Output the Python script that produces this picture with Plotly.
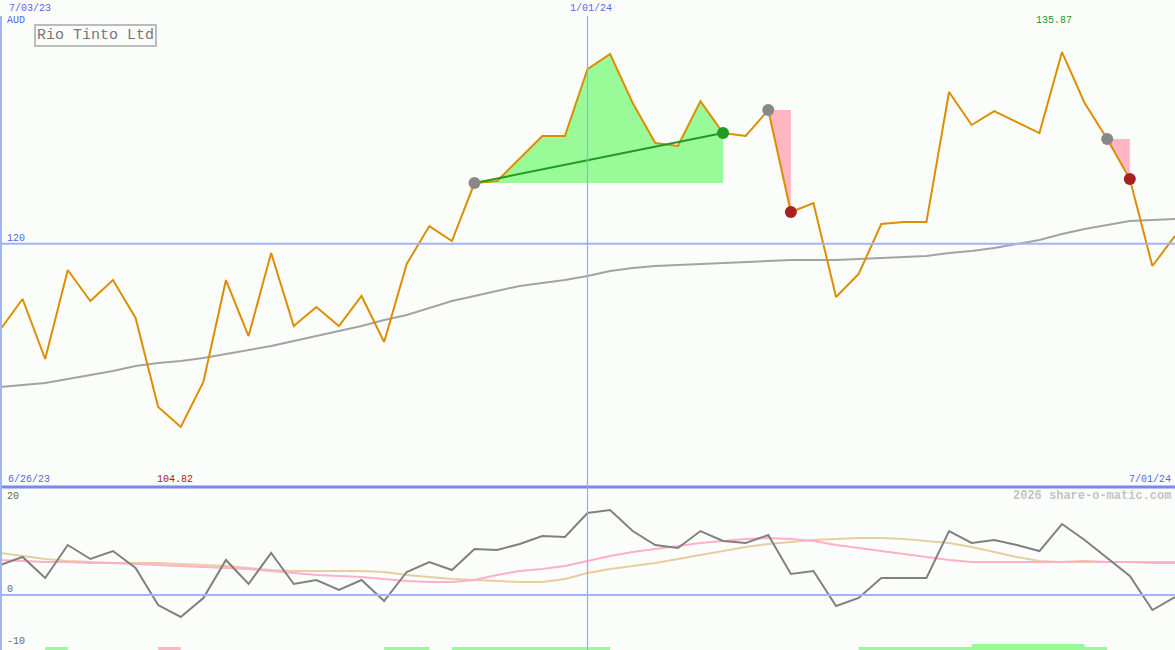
import pandas as pd
import plotly.graph_objects as go

# ---------------- data ----------------
dates = pd.date_range("2023-07-03", periods=53, freq="7D")

price = [112.85, 115.42, 110.45, 117.82, 115.25, 116.99, 113.85, 106.48, 104.82, 108.55,
         116.99, 112.35, 119.23, 113.18, 114.76, 113.18, 115.67, 111.86, 118.32, 121.46,
         120.22, 125.02, 125.19, 127.09, 128.92, 128.92, 134.46, 135.71, 131.65, 128.34,
         128.09, 131.81, 129.16, 128.92, 131.07, 122.62, 123.37, 115.58, 117.49, 121.63,
         121.79, 121.79, 132.56, 129.83, 130.98, 130.07, 129.16, 135.87, 131.65, 128.67,
         125.35, 118.15, 120.64]

moving_avg = [108.13, 108.30, 108.46, 108.79, 109.13, 109.46, 109.87, 110.12, 110.28, 110.53,
              110.86, 111.20, 111.53, 111.94, 112.35, 112.77, 113.18, 113.68, 114.09, 114.67,
              115.25, 115.67, 116.08, 116.50, 116.74, 116.99, 117.32, 117.74, 117.99, 118.15,
              118.23, 118.32, 118.40, 118.48, 118.57, 118.65, 118.65, 118.65, 118.73, 118.81,
              118.90, 118.98, 119.23, 119.39, 119.64, 119.97, 120.30, 120.80, 121.21, 121.55,
              121.88, 121.96, 122.04]

oscillator = [6.32, 8.0, 3.58, 10.53, 7.58, 9.26, 5.68, -2.11, -4.63, -0.63,
              7.37, 2.32, 8.84, 2.32, 3.16, 1.05, 3.16, -1.26, 4.84, 6.95,
              5.26, 9.68, 9.47, 10.74, 12.42, 12.21, 17.26, 17.89, 13.47, 10.53,
              9.89, 13.47, 11.37, 10.95, 12.63, 4.42, 5.05, -2.32, -0.63, 3.58,
              3.58, 3.58, 13.47, 10.95, 11.58, 10.53, 9.26, 14.95, 11.58, 7.79,
              4.0, -3.16, -0.42]

osc_fast = [7.37, 7.16, 6.95, 6.95, 6.74, 6.74, 6.53, 6.32, 6.11, 5.89,
            5.68, 5.47, 5.05, 4.63, 4.21, 4.0, 3.79, 3.37, 2.95, 2.74,
            2.74, 3.16, 4.21, 5.05, 5.47, 6.11, 7.16, 8.21, 9.05, 9.68,
            10.32, 10.95, 11.37, 11.79, 12.0, 11.79, 11.37, 10.53, 9.89, 9.26,
            8.63, 8.0, 7.37, 6.95, 6.95, 6.95, 6.95, 6.95, 7.16, 6.95,
            6.95, 6.74, 6.74]

osc_slow = [8.84, 8.21, 7.58, 7.16, 6.95, 6.74, 6.74, 6.74, 6.53, 6.32,
            6.11, 5.68, 5.26, 5.05, 5.05, 5.05, 5.05, 4.84, 4.21, 3.79,
            3.37, 3.16, 2.95, 2.74, 2.74, 3.37, 4.63, 5.47, 6.11, 6.74,
            7.58, 8.42, 9.26, 10.11, 10.74, 11.16, 11.58, 11.79, 12.0, 12.0,
            11.79, 11.37, 10.95, 10.11, 9.05, 8.0, 7.16, 6.95, 6.95, 6.95,
            6.95, 6.95, 6.95]

# signal segments: (start index, end index, direction)
signals = [(21, 32, "up"), (34, 35, "down"), (49, 50, "down")]

# bottom signal bars: (start index, end index, level, kind)
signal_bars = [(2, 3, 1, "up"), (7, 8, 1, "down"), (17, 19, 1, "up"), (20, 27, 1, "up"),
               (38, 49, 1, "up"), (43, 48, 2, "up")]

title = "Rio Tinto Ltd"
currency = "AUD"
ref_level = 120
start_label = "7/03/23"
mid_label = "1/01/24"
mid_date = "2024-01-01"
first_label = "6/26/23"
end_label = "7/01/24"
max_label = "135.87"
min_label = "104.82"
watermark = "2026 share-o-matic.com"
osc_ticks = [("20", 20), ("0", 0), ("-10", -10)]

# ---------------- styles ----------------
BG = "#FBFDFB"
BLUE_TXT = "#5566EE"
BLUE_LINE = "#A4B2FA"
ORANGE = "#DD8E00"
MA_GREY = "#A3A3A3"
FILL_UP = "#98FB98"
FILL_DN = "#FFB6C1"
GREEN = "#229922"
RED = "#A82020"
DOT_GREY = "#888888"
FONT = "Liberation Mono, DejaVu Sans Mono, monospace"

W, H = 1175, 650
TOP_DOMAIN = [163 / H, 1.0]
BOT_DOMAIN = [0.0, 163 / H]

fig = go.Figure()

# fills between price and signal start level
for s, e, d in signals:
    xs = list(dates[s:e + 1])
    base = [price[s]] * len(xs)
    col = FILL_UP if d == "up" else FILL_DN
    fig.add_trace(go.Scatter(x=xs, y=base, mode="lines", line=dict(width=0, color=col),
                             hoverinfo="skip", showlegend=False, xaxis="x", yaxis="y"))
    fig.add_trace(go.Scatter(x=xs, y=price[s:e + 1], mode="lines", line=dict(width=0, color=col),
                             fill="tonexty", fillcolor=col, hoverinfo="skip", showlegend=False,
                             xaxis="x", yaxis="y"))

# moving average
fig.add_trace(go.Scatter(x=dates, y=moving_avg, mode="lines", line=dict(color=MA_GREY, width=2),
                         showlegend=False, xaxis="x", yaxis="y"))
# price
fig.add_trace(go.Scatter(x=dates, y=price, mode="lines", line=dict(color=ORANGE, width=2),
                         showlegend=False, xaxis="x", yaxis="y"))

# signal lines & dots
for s, e, d in signals:
    if d == "up":
        fig.add_trace(go.Scatter(x=[dates[s], dates[e]], y=[price[s], price[e]], mode="lines",
                                 line=dict(color=GREEN, width=2), showlegend=False,
                                 xaxis="x", yaxis="y"))
    fig.add_trace(go.Scatter(x=[dates[s]], y=[price[s]], mode="markers",
                             marker=dict(color=DOT_GREY, size=12), showlegend=False,
                             xaxis="x", yaxis="y"))
    fig.add_trace(go.Scatter(x=[dates[e]], y=[price[e]], mode="markers",
                             marker=dict(color=GREEN if d == "up" else RED, size=12),
                             showlegend=False, xaxis="x", yaxis="y"))

# bottom oscillator panel
fig.add_trace(go.Scatter(x=dates, y=osc_slow, mode="lines", line=dict(color="#E6CE9E", width=2),
                         showlegend=False, xaxis="x", yaxis="y2"))
fig.add_trace(go.Scatter(x=dates, y=osc_fast, mode="lines", line=dict(color="#FFB0C8", width=2),
                         showlegend=False, xaxis="x", yaxis="y2"))
fig.add_trace(go.Scatter(x=dates, y=oscillator, mode="lines", line=dict(color="#808080", width=2),
                         showlegend=False, xaxis="x", yaxis="y2"))

# signal bars
week_ms = 7 * 24 * 3600 * 1000
for s, e, lvl, kind in signal_bars:
    mid = dates[s] + (dates[e] - dates[s]) / 2
    fig.add_trace(go.Bar(x=[mid], y=[lvl], width=[(e - s) * week_ms],
                         marker=dict(color=FILL_UP if kind == "up" else FILL_DN, line=dict(width=0)),
                         showlegend=False, xaxis="x", yaxis="y3"))

# ---------------- shapes ----------------
shapes = [
    dict(type="line", xref="paper", yref="y", x0=0, x1=1, y0=ref_level, y1=ref_level,
         line=dict(color=BLUE_LINE, width=2)),
    dict(type="line", xref="paper", yref="y2", x0=0, x1=1, y0=0, y1=0,
         line=dict(color=BLUE_LINE, width=2)),
    dict(type="line", xref="paper", yref="paper", x0=0, x1=1, y0=TOP_DOMAIN[0], y1=TOP_DOMAIN[0],
         line=dict(color="#7788EE", width=3)),
    dict(type="line", xref="x", yref="paper", x0=dates[0], x1=dates[0], y0=0, y1=1 - 16 / H,
         line=dict(color=BLUE_LINE, width=4)),
    dict(type="line", xref="x", yref="paper", x0=mid_date, x1=mid_date, y0=0, y1=1 - 16 / H,
         line=dict(color="#9AA8FF", width=1.2)),
]


def px(x):
    return x / W


def py(y):
    return 1 - y / H


def txt(text, x, y, color, xanchor="left", size=10, **kw):
    return dict(text=text, x=px(x), y=py(y), xref="paper", yref="paper", showarrow=False,
                xanchor=xanchor, yanchor="middle", font=dict(family=FONT, size=size, color=color), **kw)


imax = price.index(max(price))
imin = price.index(min(price))

annotations = [
    txt(start_label, 7, 8.5, BLUE_TXT),
    txt(currency, 5, 21, BLUE_TXT),
    txt(title, 95, 36, "#777777", xanchor="center", size=15,
        bordercolor="#BBBBBB", borderwidth=2, borderpad=1),
    dict(text=mid_label, x=mid_date, y=py(8.5), xref="x", yref="paper", showarrow=False,
         xanchor="center", yanchor="middle", xshift=3, font=dict(family=FONT, size=10, color=BLUE_TXT)),
    dict(text=max_label, x=dates[imax], y=py(21), xref="x", yref="paper", showarrow=False,
         xanchor="center", yanchor="middle", xshift=-8, font=dict(family=FONT, size=10, color=GREEN)),
    dict(text=min_label, x=dates[imin], y=py(479), xref="x", yref="paper", showarrow=False,
         xanchor="center", yanchor="middle", xshift=-6, font=dict(family=FONT, size=10, color=RED)),
    txt(str(ref_level), 5, 238, BLUE_TXT),
    txt(first_label, 6, 479, BLUE_TXT),
    txt(end_label, 1173, 479, BLUE_TXT, xanchor="right"),
    txt("<b>" + watermark + "</b>", 1173, 496, "#C4C4C4", xanchor="right", size=12),
]
osc_label_y = {"20": 496, "0": 589, "-10": 641}
for lab, _v in osc_ticks:
    annotations.append(txt(lab, 5, osc_label_y[lab], "#666666"))

fig.update_layout(
    width=W, height=H, margin=dict(l=0, r=0, t=0, b=0),
    paper_bgcolor=BG, plot_bgcolor=BG, showlegend=False, barmode="overlay",
    xaxis=dict(range=[dates[0], dates[-1]], visible=False, showgrid=False, zeroline=False),
    yaxis=dict(domain=TOP_DOMAIN, range=[99.85, 140.18], visible=False, showgrid=False, zeroline=False),
    yaxis2=dict(domain=BOT_DOMAIN, range=[-11.58, 22.74], visible=False, showgrid=False, zeroline=False),
    yaxis3=dict(domain=BOT_DOMAIN, range=[0, 54], visible=False, showgrid=False, zeroline=False,
                overlaying="y2"),
    shapes=shapes, annotations=annotations,
)

fig.write_html("out.html", config={"displayModeBar": False},
               post_script="document.body.style.margin='0';document.body.style.overflow='hidden';")
